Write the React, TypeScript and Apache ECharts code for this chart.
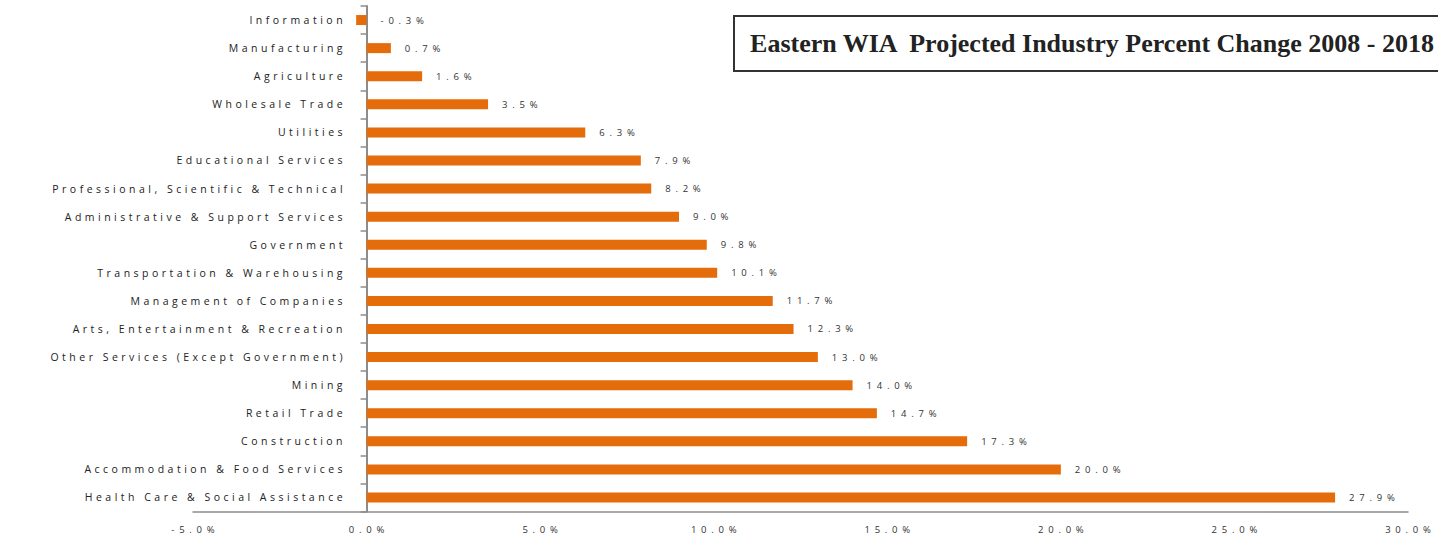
import React, { useEffect, useRef } from "react";
import * as echarts from "echarts";

const categories: string[] = [
  "Information",
  "Manufacturing",
  "Agriculture",
  "Wholesale Trade",
  "Utilities",
  "Educational Services",
  "Professional, Scientific & Technical",
  "Administrative & Support Services",
  "Government",
  "Transportation & Warehousing",
  "Management of Companies",
  "Arts, Entertainment & Recreation",
  "Other Services (Except Government)",
  "Mining",
  "Retail Trade",
  "Construction",
  "Accommodation & Food Services",
  "Health Care & Social Assistance",
];

const percentChange: number[] = [
  -0.3, 0.7, 1.6, 3.5, 6.3, 7.9, 8.2, 9.0, 9.8, 10.1, 11.7, 12.3, 13.0, 14.0, 14.7, 17.3, 20.0, 27.9,
];

const xMin = -5;
const xMax = 30;
const xStep = 5;

const titleText = "Eastern WIA  Projected Industry Percent Change 2008 - 2018";

const spreadName = (s: string) => s.split("").join("\u2004");
const pct = (v: number) => (v.toFixed(1) + "%").split("").join("\u2002");

const GRID_LEFT = 193;
const GRID_RIGHT = 30;
const WIDTH = 1438;

export default function App() {
  const ref = useRef<HTMLDivElement>(null);
  useEffect(() => {
    if (!ref.current) return;
    const chart = echarts.init(ref.current, undefined, { renderer: "svg" });
    const plotW = WIDTH - GRID_LEFT - GRID_RIGHT;
    const zeroOffset = -((0 - xMin) / (xMax - xMin)) * plotW;
    chart.setOption({
      animation: false,
      backgroundColor: "#ffffff",
      grid: {
        left: GRID_LEFT,
        right: GRID_RIGHT,
        top: 6,
        bottom: 27.5,
        containLabel: false,
        outerBoundsMode: "none",
      },
      xAxis: {
        type: "value",
        min: xMin,
        max: xMax,
        interval: xStep,
        axisLine: { show: true, onZero: false, lineStyle: { color: "#8c8c8c", width: 1.5 } },
        axisTick: { show: false },
        splitLine: { show: false },
        axisLabel: {
          formatter: (v: number) => pct(v),
          color: "#333333",
          fontFamily: "Open Sans",
          fontSize: 9.5,
          margin: 13,
        },
      },
      yAxis: {
        type: "category",
        inverse: true,
        data: categories,
        offset: zeroOffset,
        axisLine: { show: true, onZero: false, lineStyle: { color: "#8c8c8c", width: 2 } },
        axisTick: { show: true, length: 6, lineStyle: { color: "#8c8c8c", width: 1.5 } },
        axisLabel: {
          formatter: (v: string) => spreadName(v),
          color: "#222222",
          fontFamily: "Open Sans",
          fontSize: 10.5,
          margin: 24,
        },
      },
      graphic: [
        {
          type: "rect",
          shape: { x: 734, y: 16, width: 720, height: 55 },
          style: { fill: "#ffffff", stroke: "#333333", lineWidth: 2 },
          z: 10,
        },
        {
          type: "text",
          x: 1092,
          y: 43,
          style: {
            text: titleText,
            fontFamily: "Liberation Serif",
            fontWeight: "bold",
            fontSize: 26,
            fill: "#222222",
            align: "center",
            verticalAlign: "middle",
          },
          z: 11,
        },
      ],
      series: [
        {
          type: "bar",
          data: percentChange,
          barWidth: 10,
          itemStyle: { color: "#E46C0A" },
          label: {
            show: true,
            position: "right",
            distance: 14,
            formatter: (p: any) => pct(p.value),
            color: "#333333",
            fontFamily: "Open Sans",
            fontSize: 9.5,
          },
        },
      ],
    });
    return () => chart.dispose();
  }, []);
  return (
    <div
      ref={ref}
      style={{ position: "fixed", left: 0, top: 0, width: 1438, height: 539 }}
    />
  );
}
